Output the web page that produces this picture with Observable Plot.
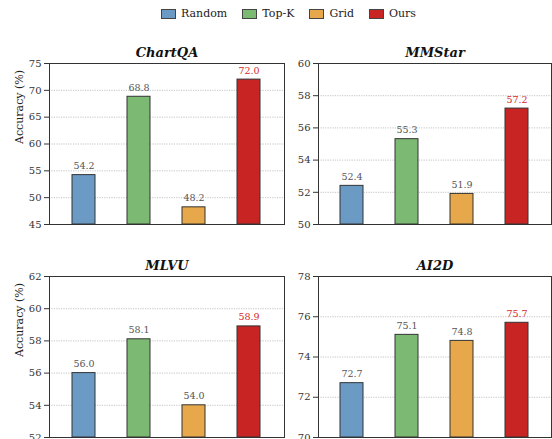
<!DOCTYPE html>
<html>
<head>
<meta charset="utf-8">
<script src="https://cdn.jsdelivr.net/npm/d3@7"></script>
<script src="https://cdn.jsdelivr.net/npm/@observablehq/plot@0.6"></script>
<style>
  html, body { margin: 0; padding: 0; background: #fff; }
  #root { position: relative; width: 552px; height: 439px; overflow: hidden; background: #fff; font-family: "DejaVu Serif", "Liberation Serif", "Noto Serif", serif; }
  .panel { position: absolute; }
  #legend { position: absolute; top: 7px; left: 161px; display: flex; align-items: center; font-size: 11px; color: #222; white-space: nowrap; }
  #legend .item { display: flex; align-items: center; margin-right: 15px; }
  #legend .sw { width: 13px; height: 8px; border: 1px solid #444; margin-right: 5px; box-sizing: content-box; }
  svg text { font-family: "DejaVu Serif", "Liberation Serif", "Noto Serif", serif; }
</style>
</head>
<body>
<div id="root">
  <div id="legend"></div>
</div>
<script>
const methods = ["Random", "Top-K", "Grid", "Ours"];
const colors = ["#6b9bc5", "#7cb972", "#e6a84a", "#c92424"];

const benchmarks = ["ChartQA", "MMStar", "MLVU", "AI2D"];
const chartqaValues = [54.2, 68.8, 48.2, 72.0];
const mmstarValues = [52.4, 55.3, 51.9, 57.2];
const mlvuValues = [56.0, 58.1, 54.0, 58.9];
const ai2dValues = [72.7, 75.1, 74.8, 75.7];

const chartqaTicks = [45, 50, 55, 60, 65, 70, 75];
const mmstarTicks = [50, 52, 54, 56, 58, 60];
const mlvuTicks = [52, 54, 56, 58, 60, 62];
const ai2dTicks = [70, 72, 74, 76, 78];

const yLabel = "Accuracy (%)";
const serif = '"DejaVu Serif", "Liberation Serif", "Noto Serif", serif';

const panels = [
  {title: benchmarks[0], values: chartqaValues, ticks: chartqaTicks, left: 0, top: 40, width: 290, ml: 49, mr: 6, ylab: true},
  {title: benchmarks[1], values: mmstarValues, ticks: mmstarTicks, left: 276, top: 40, width: 276, ml: 42, mr: 1, ylab: false},
  {title: benchmarks[2], values: mlvuValues, ticks: mlvuTicks, left: 0, top: 253, width: 290, ml: 49, mr: 6, ylab: true},
  {title: benchmarks[3], values: ai2dValues, ticks: ai2dTicks, left: 276, top: 253, width: 276, ml: 42, mr: 1, ylab: false}
];

const root = document.getElementById("root");

// legend
const legend = document.getElementById("legend");
methods.forEach((m, i) => {
  const it = document.createElement("div");
  it.className = "item";
  const sw = document.createElement("div");
  sw.className = "sw";
  sw.style.background = colors[i];
  const tx = document.createElement("span");
  tx.textContent = m;
  it.appendChild(sw); it.appendChild(tx);
  legend.appendChild(it);
});

panels.forEach(p => {
  const lo = p.ticks[0], hi = p.ticks[p.ticks.length - 1];
  const data = methods.map((m, i) => ({method: m, value: p.values[i], base: lo}));
  const inner = p.ticks.slice(1, -1);
  const marks = [
    Plot.ruleY(inner, {stroke: "#b5b5b5", strokeDasharray: "1.2,1.2", strokeWidth: 0.8}),
    Plot.barY(data, {x: "method", y1: "base", y2: "value", fill: "method", stroke: "#333", strokeWidth: 1}),
    Plot.text(data, {
      x: "method", y: "value",
      text: d => d.value.toFixed(1),
      dy: -6, lineAnchor: "bottom",
      fontSize: 9.5,
      fill: d => d.method === "Ours" ? "#d42a2a" : "#555",
      fontWeight: d => d.method === "Ours" ? "bold" : "normal"
    }),
    Plot.frame({stroke: "#333", strokeWidth: 1}),
    Plot.text([p.title], {frameAnchor: "top", dy: -7, lineAnchor: "bottom", fontSize: 13, fontWeight: "bold", fontStyle: "italic", fill: "#111"})
  ];
  if (p.ylab) {
    marks.push(Plot.text([yLabel], {frameAnchor: "left", dx: -30, rotate: -90, fontSize: 11, fill: "#222"}));
  }
  const chart = Plot.plot({
    width: p.width,
    height: 190,
    marginLeft: p.ml,
    marginRight: p.mr,
    marginTop: 23,
    marginBottom: 6,
    style: {fontFamily: serif, fontSize: "10px", color: "#333", background: "transparent", overflow: "visible"},
    x: {domain: methods, axis: null, paddingInner: 0.58, paddingOuter: 0.39},
    y: {domain: [lo, hi], ticks: p.ticks, tickSize: 5, tickPadding: 3, label: null, tickFormat: d => String(d)},
    color: {domain: methods, range: colors},
    marks
  });
  const div = document.createElement("div");
  div.className = "panel";
  div.style.left = p.left + "px";
  div.style.top = p.top + "px";
  div.appendChild(chart);
  root.appendChild(div);
});
</script>
</body>
</html>
